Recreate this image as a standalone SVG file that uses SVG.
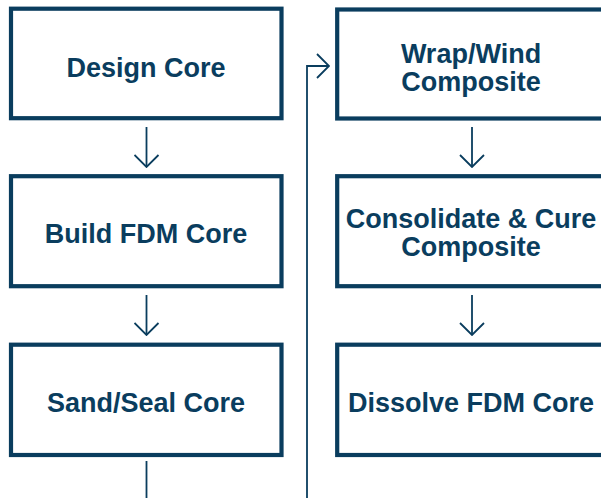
<svg xmlns="http://www.w3.org/2000/svg" width="601" height="498" viewBox="0 0 601 498">
<style>
.box{fill:#fff;stroke:#0a3d5e;stroke-width:4.2}
.t{font-family:"Liberation Sans",Arial,sans-serif;font-weight:bold;font-size:27px;fill:#0a3d5e;text-anchor:middle}
.c{fill:none;stroke:#0a3d5e;stroke-width:1.8}
</style>
<defs>
<marker id="ah" viewBox="0 0 14 26" refX="13" refY="13" markerWidth="14" markerHeight="26" markerUnits="userSpaceOnUse" orient="auto">
<path d="M1 1 L13 13 L1 25" fill="none" stroke="#0a3d5e" stroke-width="1.8"/>
</marker>
</defs>
<rect width="601" height="498" fill="#fff"/>
<g id="connectors">
<path class="c" d="M146.5 127 V167" marker-end="url(#ah)"/>
<path class="c" d="M146.5 295 V335" marker-end="url(#ah)"/>
<path class="c" d="M472 127 V167" marker-end="url(#ah)"/>
<path class="c" d="M472 295 V335" marker-end="url(#ah)"/>
<path class="c" d="M146.5 461 V530 H307 V66 H329" marker-end="url(#ah)"/>
</g>
<g id="design-core">
<rect class="box" x="11" y="8.7" width="270.5" height="109.5"/>
<text class="t" x="146" y="77">Design Core</text>
</g>
<g id="build-fdm-core">
<rect class="box" x="11" y="176.2" width="270.5" height="110"/>
<text class="t" x="146" y="243">Build FDM Core</text>
</g>
<g id="sand-seal-core">
<rect class="box" x="11" y="344.7" width="270.5" height="110.3"/>
<text class="t" x="146" y="411.5">Sand/Seal Core</text>
</g>
<g id="wrap-wind-composite">
<rect class="box" x="337.2" y="9.5" width="270.5" height="109"/>
<text class="t" x="471" y="62.5">Wrap/Wind</text>
<text class="t" x="471" y="90.5">Composite</text>
</g>
<g id="consolidate-cure-composite">
<rect class="box" x="337.2" y="176.2" width="270.5" height="110"/>
<text class="t" x="471" y="228">Consolidate &amp; Cure</text>
<text class="t" x="471" y="256">Composite</text>
</g>
<g id="dissolve-fdm-core">
<rect class="box" x="337.2" y="344.7" width="270.5" height="110.3"/>
<text class="t" x="471" y="411.5">Dissolve FDM Core</text>
</g>
</svg>
